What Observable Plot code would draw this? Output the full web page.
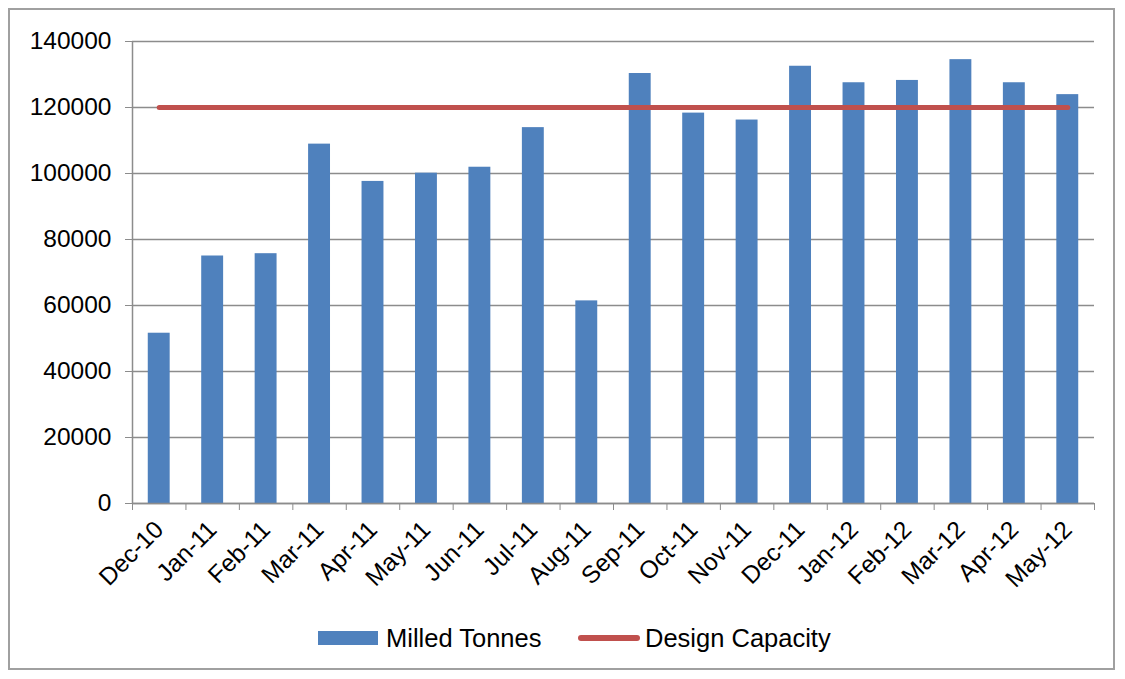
<!DOCTYPE html>
<html><head><meta charset="utf-8">
<script src="https://cdn.jsdelivr.net/npm/d3@7"></script>
<script src="https://cdn.jsdelivr.net/npm/@observablehq/plot@0.6"></script>
<style>
body{margin:0;background:#fff;font-family:"Liberation Sans",Arial,sans-serif;width:1125px;height:679px;overflow:hidden;position:relative;}
#frame{position:absolute;left:8px;top:8px;width:1107px;height:662px;border:2px solid #a0a0a0;box-sizing:border-box;}
#chart{position:absolute;left:0;top:0;}
#legend{position:absolute;top:623px;left:0;width:1125px;height:30px;}
.item{position:absolute;top:0;height:30px;display:flex;align-items:center;font-size:25.5px;color:#000;}
.sw{display:inline-block;width:60px;height:14px;background:#4F81BD;margin-right:8px;}
.ln{display:inline-block;width:62px;height:6px;border-radius:3px;background:#C0504D;margin-right:5px;}
</style></head>
<body>
<div id="frame"></div>
<div id="chart"></div>
<div id="legend">
  <div class="item" style="left:318px"><span class="sw"></span>Milled Tonnes</div>
  <div class="item" style="left:578px"><span class="ln"></span>Design Capacity</div>
</div>
<script>
const months = ["Dec-10","Jan-11","Feb-11","Mar-11","Apr-11","May-11","Jun-11","Jul-11","Aug-11","Sep-11","Oct-11","Nov-11","Dec-11","Jan-12","Feb-12","Mar-12","Apr-12","May-12"];
const milledTonnes = [51600,75000,75700,108900,97600,100100,101900,113900,61400,130300,118300,116200,132500,127500,128200,134500,127500,123900];
const designCapacity = [120000,120000,120000,120000,120000,120000,120000,120000,120000,120000,120000,120000,120000,120000,120000,120000,120000,120000];
const yTicks = [0,20000,40000,60000,80000,100000,120000,140000];

const data = months.map((m,i)=>({month:m, milled:milledTonnes[i], capacity:designCapacity[i]}));

const W = 1125, H = 610, ML = 132, MR = 31, MT = 41, MB = 107;
const step = (W - ML - MR) / months.length;
const grid = "#8c8c8c";

const chart = Plot.plot({
  width: W, height: H,
  marginLeft: ML, marginRight: MR, marginTop: MT, marginBottom: MB,
  style: {fontFamily: "'Liberation Sans', Arial, sans-serif", fontSize: "24.5px", color: "#000", background: "transparent"},
  x: {type: "band", domain: months, paddingInner: 0.59, paddingOuter: 0.295, round: false, label: null},
  y: {domain: [0, 140000], label: null},
  marks: [
    Plot.gridY(yTicks, {stroke: grid, strokeOpacity: 1, strokeWidth: 1.5}),
    Plot.barY(data, {x: "month", y: "milled", fill: "#4F81BD"}),
    Plot.ruleY([0], {stroke: grid, strokeWidth: 1.5}),
    Plot.ruleX([months[0]], {y1: 0, y2: 140000, dx: -step/2, stroke: grid, strokeWidth: 1.5}),
    Plot.axisY(yTicks, {tickSize: 7, tickPadding: 14, stroke: grid, fill: "#000", fontSize: 24.5, tickFormat: d => String(d), label: null}),
    Plot.axisX({tickSize: 7, tickFormat: () => "", dx: -step/2, stroke: grid, label: null}),
    Plot.axisX([months[months.length-1]], {tickSize: 7, tickFormat: () => "", dx: step/2, stroke: grid, label: null}),
    Plot.axisX({tickSize: 0, tickPadding: 22, tickRotate: -45, fill: "#000", fontSize: 24.5, label: null}),
    Plot.lineY(data, {x: "month", y: "capacity", stroke: "#C0504D", strokeWidth: 5, strokeLinecap: "round"})
  ]
});
document.getElementById("chart").appendChild(chart);
</script>
</body></html>
